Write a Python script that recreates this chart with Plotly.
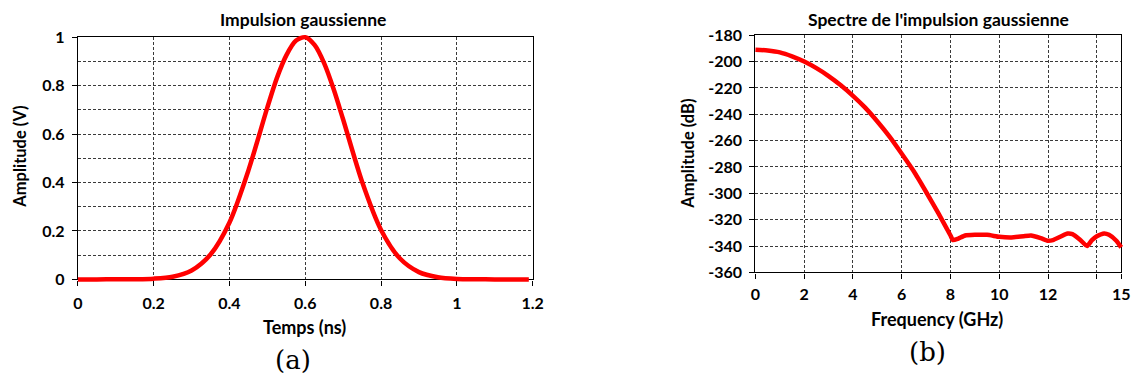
import plotly.graph_objects as go

# ---- data ----
t_ns = [0.0, 0.05, 0.1, 0.15, 0.2, 0.25, 0.3, 0.35, 0.4, 0.45, 0.5, 0.525, 0.55, 0.575, 0.6,
        0.625, 0.65, 0.675, 0.7, 0.75, 0.8, 0.85, 0.9, 0.95, 1.0, 1.05, 1.1, 1.15, 1.19]
amp_v = [0.0, 0.0, 0.0002, 0.0008, 0.003, 0.011, 0.037, 0.103, 0.235, 0.45, 0.71, 0.831, 0.925, 0.985, 1.0,
         0.967, 0.892, 0.785, 0.66, 0.403, 0.204, 0.086, 0.03, 0.009, 0.002, 0.0005, 0.0, 0.0, 0.0]

f_ghz = [0, 0.5, 1, 1.5, 2, 2.5, 3, 3.5, 4, 4.5, 5, 5.5, 6, 6.5, 7, 7.5, 8, 8.1, 8.3, 8.6,
         9, 9.5, 10, 10.5, 11, 11.3, 11.7, 12, 12.2, 12.5, 12.8, 13, 13.3, 13.6, 13.8,
         14, 14.3, 14.5, 14.8, 15]
spec_db = [-191, -191.6, -193, -196, -200, -205, -211, -218, -226, -235, -245.5, -257, -270,
           -283.5, -299, -315, -332, -335.5, -334.5, -332, -331.5, -331.5, -333, -333.5,
           -332.5, -332, -334, -336, -335.5, -333, -330.5, -331, -335, -340, -335.5,
           -332.5, -330.5, -331.5, -336, -341]

ticks_t = [0, 0.2, 0.4, 0.6, 0.8, 1, 1.2]
ticks_a = [0, 0.2, 0.4, 0.6, 0.8, 1]
ticks_f = [0, 2, 4, 6, 8, 10, 12, 14, 15]
ticktext_f = ["0", "2", "4", "6", "8", "10", "12", "", "15"]
ticks_db = [-360, -340, -320, -300, -280, -260, -240, -220, -200, -180]

W, H = 1136, 379
# page -> photographed picture was observed to map roughly as
# X' = 0.9866*X + 4.03 ; Y' = 0.953*Y + 9.73 ; place items by inverting it.
def px(x): return ((x - 4.03) / 0.9866) / W
def py(y): return 1 - ((y - 9.73) / 0.953) / H

SANS = "Lato"
SERIF = "DejaVu Serif"
RED = "#ff0000"
GRID = "#3a3a3a"
DASH = "3px,2px"

# plot rectangles (picture pixels) and their data ranges
L = dict(x0=77, x1=532, y0=37, y1=280, xr=(0, 1.2), yr=(0, 1))
R = dict(x0=755, x1=1121, y0=35, y1=273, xr=(0, 15), yr=(-360, -180))

def padded(box, pl=5, pr=5, pt=5, pb=5):
    # a slightly larger, invisible subplot on the same scale, so the thick curve is not clipped
    sx = (box["xr"][1] - box["xr"][0]) / (box["x1"] - box["x0"])
    sy = (box["yr"][1] - box["yr"][0]) / (box["y1"] - box["y0"])
    return dict(
        xd=[px(box["x0"] - pl), px(box["x1"] + pr)],
        yd=[py(box["y1"] + pb), py(box["y0"] - pt)],
        xr=[box["xr"][0] - pl * sx, box["xr"][1] + pr * sx],
        yr=[box["yr"][0] - pb * sy, box["yr"][1] + pt * sy],
    )

Lp = padded(L)
Rp = padded(R, pr=3)

fig = go.Figure()
fig.add_trace(go.Scatter(x=[None], y=[None], xaxis="x", yaxis="y", showlegend=False))
fig.add_trace(go.Scatter(x=[None], y=[None], xaxis="x2", yaxis="y2", showlegend=False))
fig.add_trace(go.Scatter(x=t_ns, y=amp_v, mode="lines", line=dict(color=RED, width=4.5, shape="spline", smoothing=0.8),
                         xaxis="x3", yaxis="y3", showlegend=False, hoverinfo="skip"))
fig.add_trace(go.Scatter(x=f_ghz, y=spec_db, mode="lines", line=dict(color=RED, width=4.5, shape="spline", smoothing=0.5),
                         xaxis="x4", yaxis="y4", showlegend=False, hoverinfo="skip"))

tickfont = dict(family=SANS, size=16, color="black", weight="bold")
common = dict(showline=True, linecolor="black", linewidth=1.3, mirror=True,
              ticks="outside", ticklen=5, tickcolor="black", tickwidth=1,
              gridcolor=GRID, griddash=DASH, gridwidth=1, zeroline=False,
              tickfont=tickfont)
hidden = dict(visible=False, showgrid=False, zeroline=False, fixedrange=True)

fig.update_layout(
    width=W, height=H, margin=dict(l=0, r=0, t=0, b=0),
    paper_bgcolor="white", plot_bgcolor="rgba(0,0,0,0)",
    xaxis=dict(domain=[px(L["x0"]), px(L["x1"])], range=list(L["xr"]), tickvals=ticks_t,
               ticktext=["0", "0.2", "0.4", "0.6", "0.8", "1", "1.2"], anchor="y",
               ticklabelstandoff=4, **common),
    yaxis=dict(domain=[py(L["y1"]), py(L["y0"])], range=list(L["yr"]), tickvals=ticks_a,
               ticktext=["0", "0.2", "0.4", "0.6", "0.8", "1"], anchor="x",
               minor=dict(dtick=0.1, showgrid=True, gridcolor=GRID, griddash=DASH, gridwidth=1, ticks=""),
               ticklabelstandoff=4, **common),
    xaxis2=dict(domain=[px(R["x0"]), px(R["x1"])], range=list(R["xr"]), tickvals=ticks_f, ticktext=ticktext_f,
                anchor="y2", ticklabelstandoff=2, **common),
    yaxis2=dict(domain=[py(R["y1"]), py(R["y0"])], range=list(R["yr"]), tickvals=ticks_db,
                ticktext=[str(v) for v in ticks_db], anchor="x2", ticklabelstandoff=4, **common),
    xaxis3=dict(domain=Lp["xd"], range=Lp["xr"], anchor="y3", **hidden),
    yaxis3=dict(domain=Lp["yd"], range=Lp["yr"], anchor="x3", **hidden),
    xaxis4=dict(domain=Rp["xd"], range=Rp["xr"], anchor="y4", **hidden),
    yaxis4=dict(domain=Rp["yd"], range=Rp["yr"], anchor="x4", **hidden),
)

def ann(text, x, y, size=15, bold=True, family=SANS, angle=0):
    fig.add_annotation(text=text, x=px(x), y=py(y), xref="paper", yref="paper",
                       showarrow=False, textangle=angle, xanchor="center", yanchor="middle",
                       font=dict(family=family, size=size, color="black",
                                 weight="bold" if bold else "normal"))

ann("Impulsion gaussienne", 302, 19.5, size=17.5)
ann("Temps (ns)", 304, 328, size=18)
ann("Amplitude (V)", 19, 157, size=16.5, angle=-90)
ann("(a)", 292, 361, size=26, bold=False, family=SERIF)

ann("Spectre de l'impulsion gaussienne", 938, 19, size=17.5)
ann("Frequency (GHz)", 937, 320, size=18)
ann("Amplitude (dB)", 688, 153.5, size=16.5, angle=-90)
ann("(b)", 927, 353, size=26, bold=False, family=SERIF)

fig.write_html("out.html", config={"displayModeBar": False},
               post_script="document.body.style.margin='0';document.body.style.overflow='hidden';")
